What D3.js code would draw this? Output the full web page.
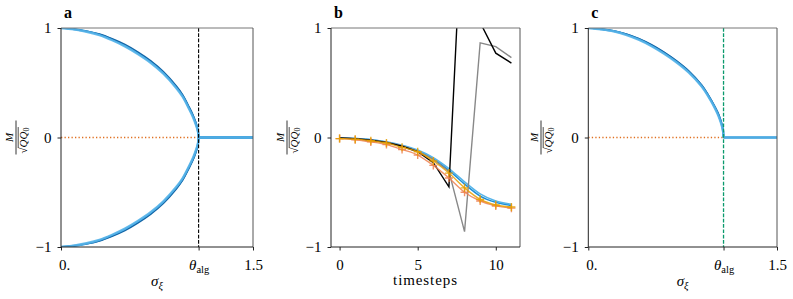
<!DOCTYPE html>
<html><head><meta charset="utf-8">
<script src="https://cdn.jsdelivr.net/npm/d3@7"></script>
<style>body{margin:0;background:#fff} text{font-family:"Liberation Serif",serif;fill:#000}</style>
</head><body><svg id="c" width="793" height="299"></svg>
<script>
// ---------- data ----------
const thetaAlg = 1.075;
const sigmaTicks = [0, thetaAlg, 1.5];
const sigmaTickLabels = ["0.", "θ_alg", "1.5"];
const mTicks = [-1, 0, 1];
const mTickLabels = ["−1", "0", "1"];

// panel a (upper branch; lower branch is its mirror)
const sigmaA = [0, 0.1, 0.2, 0.3, 0.4, 0.5, 0.6, 0.7, 0.8, 0.9, 0.95, 1.0, 1.03, 1.05, 1.065, 1.072, 1.075, 1.1, 1.5];
const aDark  = [1, 0.99, 0.972, 0.945, 0.902, 0.85, 0.782, 0.702, 0.602, 0.472, 0.392, 0.282, 0.21, 0.15, 0.095, 0.05, 0, 0, 0];
const aMid   = [1, 0.99, 0.97, 0.94, 0.895, 0.84, 0.772, 0.692, 0.592, 0.462, 0.382, 0.272, 0.2, 0.14, 0.085, 0.045, 0, 0, 0];
const aLight = [1, 0.988, 0.966, 0.935, 0.888, 0.832, 0.763, 0.683, 0.583, 0.453, 0.373, 0.263, 0.19, 0.13, 0.078, 0.04, 0, 0, 0];

// panel c
const sigmaC = [0, 0.1, 0.2, 0.3, 0.4, 0.5, 0.6, 0.7, 0.8, 0.9, 0.95, 1.0, 1.03, 1.05, 1.065, 1.072, 1.075, 1.1, 1.5];
const cDark  = [1, 0.99, 0.975, 0.947, 0.905, 0.85, 0.782, 0.702, 0.607, 0.482, 0.397, 0.297, 0.23, 0.17, 0.11, 0.06, 0, 0, 0];
const cMid   = [1, 0.99, 0.973, 0.943, 0.9, 0.843, 0.775, 0.695, 0.6, 0.475, 0.39, 0.29, 0.22, 0.16, 0.1, 0.055, 0, 0, 0];
const cLight = [1, 0.988, 0.97, 0.938, 0.893, 0.836, 0.767, 0.687, 0.592, 0.467, 0.382, 0.282, 0.21, 0.15, 0.092, 0.05, 0, 0, 0];

// panel b
const timesteps = [0, 1, 2, 3, 4, 5, 6, 7, 8, 9, 10, 11];
const bTimeTicks = [0, 5, 10];
const bBlueLight = [-0.005, -0.01, -0.02, -0.04, -0.07, -0.115, -0.185, -0.285, -0.405, -0.515, -0.58, -0.61];
const bBlueDark  = [-0.005, -0.01, -0.022, -0.043, -0.075, -0.122, -0.195, -0.3, -0.425, -0.535, -0.592, -0.62];
const bOrange    = [-0.01, -0.015, -0.03, -0.05, -0.09, -0.13, -0.215, -0.325, -0.46, -0.565, -0.615, -0.635];
const bVermil    = [-0.01, -0.02, -0.04, -0.065, -0.11, -0.16, -0.255, -0.37, -0.5, -0.58, -0.625, -0.645];
const bBlack     = [-0.005, -0.01, -0.025, -0.045, -0.08, -0.13, -0.23, -0.45, 2.45, 1.05, 0.77, 0.68];
const bGray      = [-0.005, -0.01, -0.022, -0.043, -0.075, -0.125, -0.2, -0.31, -0.86, 0.865, 0.83, 0.73];

// ---------- layout ----------
const svg = d3.select("#c");
const yTop = 28, yBot = 247;
const y = d3.scaleLinear().domain([-1, 1]).range([yBot, yTop]);
const FS = 15;
const FF = '"Liberation Serif", serif';

function frame(x0, x1, id) {
  const g = svg.append("g");
  svg.append("clipPath").attr("id", id).append("rect")
    .attr("x", x0).attr("y", yTop).attr("width", x1 - x0).attr("height", yBot - yTop);
  return g;
}
function spines(x0, x1) {
  const s = svg.append("g").attr("fill", "none");
  s.append("line").attr("x1", x0).attr("x2", x1).attr("y1", yTop).attr("y2", yTop).attr("stroke", "#777").attr("stroke-width", 1);
  s.append("line").attr("x1", x1).attr("x2", x1).attr("y1", yTop).attr("y2", yBot).attr("stroke", "#555").attr("stroke-width", 1);
  s.append("line").attr("x1", x0).attr("x2", x0).attr("y1", yTop).attr("y2", yBot).attr("stroke", "#222").attr("stroke-width", 1);
  s.append("line").attr("x1", x0).attr("x2", x1).attr("y1", yBot).attr("y2", yBot).attr("stroke", "#222").attr("stroke-width", 1);
}
function yAxis(x0) {
  const ax = svg.append("g").attr("transform", `translate(${x0},0)`)
    .call(d3.axisLeft(y).tickValues(mTicks).tickFormat((d, i) => mTickLabels[i]).tickSize(3.5).tickPadding(6));
  ax.attr("font-family", FF).attr("font-size", FS);
  ax.select(".domain").remove();
  ax.selectAll("line").attr("stroke", "#222");
  ax.selectAll("text").style("font-family", FF).style("font-size", FS + "px").attr("dy", "0.33em");
}
function xAxis(x, vals, fmt) {
  const ax = svg.append("g").attr("transform", `translate(0,${yBot})`)
    .call(d3.axisBottom(x).tickValues(vals).tickFormat((d, i) => fmt[i]).tickSize(3.5).tickPadding(9));
  ax.attr("font-family", FF).attr("font-size", FS);
  ax.select(".domain").remove();
  ax.selectAll("line").attr("stroke", "#222");
  ax.selectAll("text").style("font-family", FF).style("font-size", FS + "px")
    .each(function (d, i) {
      const lbl = fmt[i];
      if (lbl === "0.") d3.select(this).attr("dx", 3);
      if (lbl.includes("_")) {
        const [a, b] = lbl.split("_");
        const t = d3.select(this).text("");
        t.append("tspan").style("font-style", "italic").text(a);
        t.append("tspan").style("font-size", "10.5px").attr("dy", 3).text(b);
      }
    });
}
function yLabel(cx) {
  const G = svg.append("g").attr("transform", `translate(${cx},${(yTop + yBot) / 2}) rotate(-90)`);
  G.append("text").attr("text-anchor", "middle").attr("y", -3).style("font-style", "italic").style("font-size", "11px").text("M");
  G.append("line").attr("x1", -17).attr("x2", 17).attr("y1", 0).attr("y2", 0).attr("stroke", "#000").attr("stroke-width", 0.8);
  const t = G.append("text").attr("y", 11).attr("x", -16).style("font-size", "11px");
  t.append("tspan").text("√");
  t.append("tspan").style("font-style", "italic").text("QQ");
  t.append("tspan").style("font-size", "8px").attr("dy", 2).text("0");
  const w1 = t.node().getSubStringLength(0, 1);
  const wAll = t.node().getComputedTextLength();
  G.append("line").attr("x1", -16 + w1 - 0.5).attr("x2", -16 + wAll + 0.5).attr("y1", 2.2).attr("y2", 2.2)
    .attr("stroke", "#000").attr("stroke-width", 0.7);
}
function title(x0, s) {
  svg.append("text").attr("x", x0 + 3).attr("y", 18).style("font-weight", "bold").style("font-size", "16px").text(s);
}
function xLabelSigma(cx) {
  const t = svg.append("text").attr("x", cx).attr("y", 286).attr("text-anchor", "middle").style("font-size", FS + "px");
  t.append("tspan").style("font-style", "italic").text("σ");
  t.append("tspan").style("font-style", "italic").style("font-size", "10.5px").attr("dy", 3).text("ξ");
}
function branch(gc, x, sig, vals, sign, col, w) {
  const pts = vals.map((v, i) => [x(sig[i]), y(sign * v)]);
  const k = sig.findIndex(s => s >= thetaAlg);
  const curved = d3.line().curve(d3.curveCatmullRom.alpha(0.5));
  const straight = d3.line();
  gc.append("path").attr("d", curved(pts.slice(0, k + 1)) + straight(pts.slice(k)))
    .attr("fill", "none").attr("stroke", col).attr("stroke-width", w).attr("opacity", 0.9).attr("stroke-linejoin", "round");
}

// ---------- panel a ----------
{
  const x0 = 61, x1 = 253;
  const x = d3.scaleLinear().domain([0, 1.5]).range([x0, x1]);
  const g = frame(x0, x1, "clipA");
  const gc = g.append("g").attr("clip-path", "url(#clipA)");
  gc.append("line").attr("x1", x(0)).attr("x2", x(thetaAlg)).attr("y1", y(0)).attr("y2", y(0))
    .attr("stroke", "#E07020").attr("stroke-width", 1.3).attr("stroke-dasharray", "1.3,2.2");
  const series = [[aMid, "#1f8fd6", 2.2], [aDark, "#0a5c9e", 1.4], [aLight, "#56B4E9", 2.4]];
  for (const sign of [1, -1]) {
    for (const [vals, col, w] of series) branch(gc, x, sigmaA, vals, sign, col, w);
  }
  g.append("line").attr("x1", x(thetaAlg)).attr("x2", x(thetaAlg)).attr("y1", yTop).attr("y2", yBot)
    .attr("stroke", "#000").attr("stroke-width", 1.1).attr("stroke-dasharray", "3.7,1.6");
  spines(x0, x1);
  yAxis(x0);
  xAxis(x, sigmaTicks, sigmaTickLabels);
  yLabel(16);
  title(x0, "a");
  xLabelSigma((x0 + x1) / 2);
}

// ---------- panel b ----------
{
  const x0 = 331, x1 = 520;
  const x = d3.scaleLinear().domain([-0.55, 11.55]).range([x0, x1]);
  const g = frame(x0, x1, "clipB");
  const gc = g.append("g").attr("clip-path", "url(#clipB)");
  const lin = d3.line().x((d, i) => x(timesteps[i])).y(d => y(d));
  const smooth = d3.line().x((d, i) => x(timesteps[i])).y(d => y(d)).curve(d3.curveMonotoneX);
  gc.append("path").datum(bBlueDark).attr("d", smooth).attr("fill", "none").attr("stroke", "#1f8fd6").attr("stroke-width", 1.6);
  gc.append("path").datum(bBlueLight).attr("d", smooth).attr("fill", "none").attr("stroke", "#56B4E9").attr("stroke-width", 1.6);
  gc.append("path").datum(bGray).attr("d", lin).attr("fill", "none").attr("stroke", "#888").attr("stroke-width", 1.4);
  gc.append("path").datum(bBlack).attr("d", lin).attr("fill", "none").attr("stroke", "#000").attr("stroke-width", 1.4);
  const plus = (vals, col, op) => {
    gc.append("path").datum(vals).attr("d", smooth).attr("fill", "none").attr("stroke", col).attr("stroke-width", 1.4).attr("opacity", op);
    gc.append("g").selectAll("path").data(vals).join("path")
      .attr("d", (d, i) => { const cx = x(timesteps[i]), cy = y(d); return `M${cx - 4},${cy}H${cx + 4}M${cx},${cy - 4}V${cy + 4}`; })
      .attr("stroke", col).attr("stroke-width", 1.4).attr("opacity", op);
  };
  plus(bVermil, "#EE8050", 0.85);
  plus(bOrange, "#E69F00", 0.85);
  spines(x0, x1);
  yAxis(x0);
  xAxis(x, bTimeTicks, bTimeTicks.map(String));
  yLabel(287);
  title(x0, "b");
  svg.append("text").attr("x", (x0 + x1) / 2).attr("y", 285).attr("text-anchor", "middle")
    .style("font-size", FS + "px").style("letter-spacing", "0.9px").text("timesteps");
}

// ---------- panel c ----------
{
  const x0 = 588.3, x1 = 777;
  const x = d3.scaleLinear().domain([0, 1.5]).range([x0, x1]);
  const g = frame(x0, x1, "clipC");
  const gc = g.append("g").attr("clip-path", "url(#clipC)");
  gc.append("line").attr("x1", x(0)).attr("x2", x(thetaAlg)).attr("y1", y(0)).attr("y2", y(0))
    .attr("stroke", "#E07020").attr("stroke-width", 1.3).attr("stroke-dasharray", "1.3,2.2");
  const series = [[cMid, "#1f8fd6", 2.2], [cDark, "#0a5c9e", 1.4], [cLight, "#56B4E9", 2.4]];
  for (const [vals, col, w] of series) branch(gc, x, sigmaC, vals, 1, col, w);
  g.append("line").attr("x1", x(thetaAlg)).attr("x2", x(thetaAlg)).attr("y1", yTop).attr("y2", yBot)
    .attr("stroke", "#0a9a6c").attr("stroke-width", 1.3).attr("stroke-dasharray", "3.7,1.6");
  spines(x0, x1);
  yAxis(x0);
  xAxis(x, sigmaTicks, sigmaTickLabels);
  yLabel(541);
  title(x0, "c");
  xLabelSigma((x0 + x1) / 2);
}
</script></body></html>
